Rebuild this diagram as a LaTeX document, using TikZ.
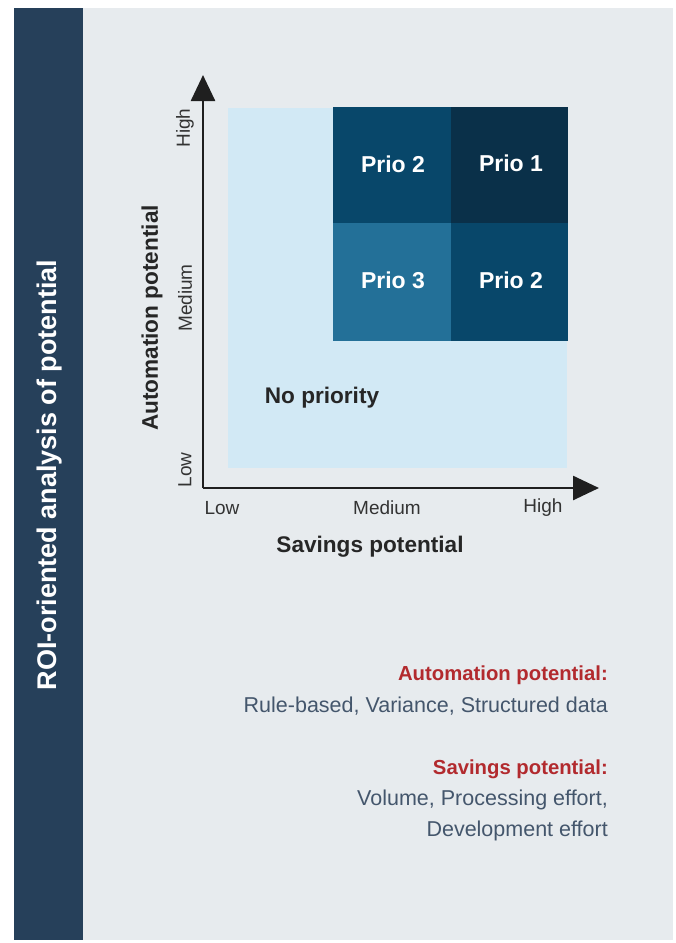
\documentclass[tikz,border=0pt]{standalone}
\usepackage{fontspec}
\setmainfont{Liberation Sans}
\usetikzlibrary{arrows.meta}
\definecolor{barcol}{HTML}{26405A}
\definecolor{panel}{HTML}{E7EBEE}
\definecolor{lightblue}{HTML}{D2E9F5}
\definecolor{priotwo}{HTML}{08476A}
\definecolor{prioone}{HTML}{0A3049}
\definecolor{priothree}{HTML}{237098}
\definecolor{redtxt}{HTML}{B22A2E}
\definecolor{greytxt}{HTML}{44566C}
\definecolor{axistxt}{HTML}{333333}
\tikzset{
  prio/.style={text=white, font=\fontsize{23}{27}\selectfont\bfseries},
  ticklbl/.style={text=axistxt, font=\fontsize{19}{22}\selectfont},
  axistitle/.style={text=black!85, font=\fontsize{22.6}{26}\selectfont\bfseries},
  headred/.style={text=redtxt, anchor=east, inner sep=0pt, font=\fontsize{20.3}{24}\selectfont\bfseries},
  bodygrey/.style={text=greytxt, anchor=east, inner sep=0pt, font=\fontsize{21.5}{25}\selectfont},
  axisline/.style={line width=2.6pt, draw=black!88, -{Triangle[length=26pt,width=24pt]}}
}
\begin{document}
\begin{tikzpicture}[x=1pt,y=-1pt]
\useasboundingbox (0,0) rectangle (676,943);
\fill[white] (0,0) rectangle (676,943);
\fill[panel] (83,8) rectangle (673,940);
\fill[barcol] (14,8) rectangle (83,940);
\node[rotate=90, text=white, font=\fontsize{27}{31}\selectfont\bfseries] (title) at (49.5,475) {ROI-oriented analysis of potential};
% quadrants
\fill[lightblue] (228,108) rectangle (567,468);
\fill[priotwo] (333,107) rectangle (451,223);
\fill[prioone] (451,107) rectangle (568,223);
\fill[priothree] (333,223) rectangle (451,341);
\fill[priotwo] (451,223) rectangle (568,341);
\node[prio] (p2a) at (393,164) {Prio 2};
\node[prio] (p1) at (511,163) {Prio 1};
\node[prio] (p3) at (393,280) {Prio 3};
\node[prio] (p2b) at (511,280) {Prio 2};
\node[text=black!85, font=\fontsize{22.6}{26}\selectfont\bfseries] (np) at (322,398) {No priority};
% axes
\coordinate (origin) at (203,488);
\coordinate (ytip) at (203,75);
\coordinate (xtip) at (599,488);
\draw[axisline] (origin) -- (ytip);
\draw[axisline] (origin) -- (xtip);
% tick labels
\node[ticklbl] (xl) at (222,508) {Low};
\node[ticklbl] (xm) at (387,508) {Medium};
\node[ticklbl] (xh) at (543,508) {High};
\node[ticklbl, rotate=90] (yl) at (185,470) {Low};
\node[ticklbl, rotate=90] (ym) at (185,298) {Medium};
\node[ticklbl, rotate=90] (yh) at (185,128) {High};
\node[axistitle] (xt) at (370,547) {Savings potential};
\node[axistitle, rotate=90] (yt) at (152,318) {Automation potential};
% legend text
\node[headred] (h1) at (608,675) {Automation potential:};
\node[bodygrey] (b1) at (608,706) {Rule-based, Variance, Structured data};
\node[headred] (h2) at (608,769) {Savings potential:};
\node[bodygrey] (b2) at (608,800) {Volume, Processing effort,};
\node[bodygrey] (b3) at (608,831) {Development effort};
\end{tikzpicture}
\end{document}
